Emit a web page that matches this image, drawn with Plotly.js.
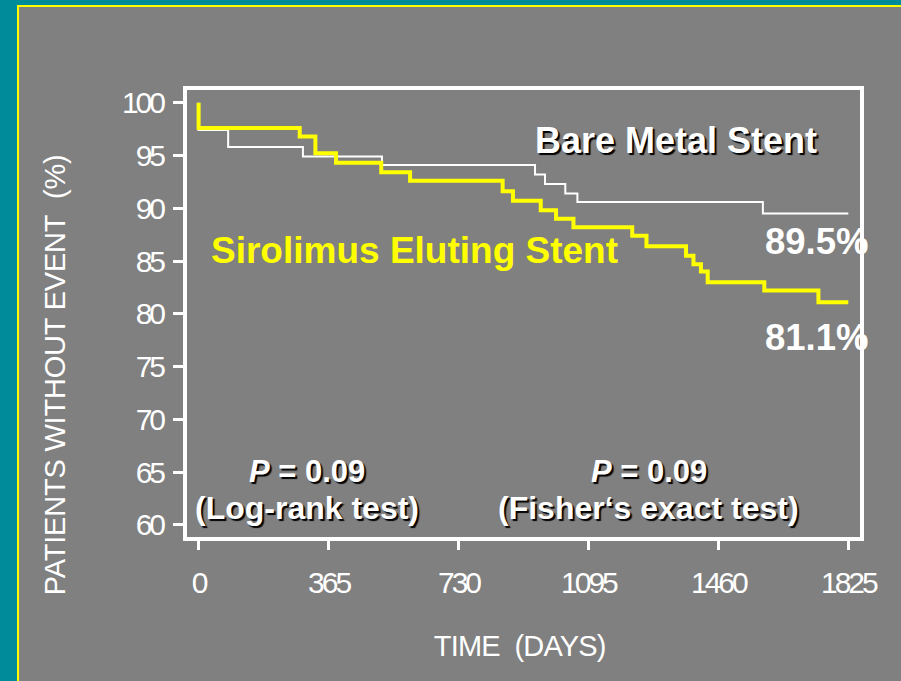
<!DOCTYPE html>
<html>
<head>
<meta charset="utf-8">
<script src="https://cdn.plot.ly/plotly-3.0.1.min.js"></script>
<style>
  html, body { margin: 0; padding: 0; background: #008B9A; }
  #chart { width: 901px; height: 681px; }
</style>
</head>
<body>
<div id="chart"></div>
<script>
// ---- data ----
const daysSES = [0, 0, 284, 328, 386, 513, 594, 854, 883, 961, 1004, 1053, 1218, 1258, 1369, 1390, 1411, 1430, 1589, 1741, 1825];
const survSES = [100, 97.6, 96.8, 95.2, 94.3, 93.4, 92.6, 91.6, 90.7, 89.8, 89.0, 88.2, 87.4, 86.4, 85.5, 84.7, 84.0, 83.0, 82.2, 81.1, 81.1];

const daysBMS = [0, 0, 83, 293, 515, 945, 973, 1030, 1064, 1585, 1825];
const survBMS = [100, 97.4, 95.8, 94.9, 94.1, 93.2, 92.3, 91.4, 90.6, 89.5, 89.5];

const xTicks = [0, 365, 730, 1095, 1460, 1825];
const yTicks = [60, 65, 70, 75, 80, 85, 90, 95, 100];

const seriesNames = ["Sirolimus Eluting Stent", "Bare Metal Stent"];
const finalLabels = ["81.1%", "89.5%"];
const xTitle = "TIME&nbsp;&nbsp;(DAYS)";
const yTitle = "PATIENTS WITHOUT EVENT&nbsp;&nbsp;(%)";

// ---- styling ----
const thin = "'Liberation Sans', Arial, sans-serif";
const bold = "'Liberation Sans', Arial, sans-serif";
const shadow = "2px 2px 1px #000000";

const traces = [
  {
    x: daysBMS, y: survBMS, type: "scatter", mode: "lines",
    line: { shape: "hv", color: "#ffffff", width: 2 },
    name: seriesNames[1], hoverinfo: "skip"
  },
  {
    x: daysSES, y: survSES, type: "scatter", mode: "lines",
    line: { shape: "hv", color: "#ffff00", width: 4 },
    name: seriesNames[0], hoverinfo: "skip"
  }
];

function ann(text, x, y, size, color, sh) {
  return {
    text: text, x: x, y: y, xref: "paper", yref: "paper",
    xanchor: "center", yanchor: "middle", showarrow: false,
    font: { family: bold, size: size, color: color, weight: 700, shadow: sh || "none" }
  };
}

const layout = {
  width: 901, height: 681,
  margin: { l: 187, r: 41, t: 90, b: 144, pad: 0 },
  paper_bgcolor: "#008B9A",
  plot_bgcolor: "rgba(0,0,0,0)",
  showlegend: false,
  xaxis: {
    range: [-32.6, 1857.8],
    tickvals: xTicks, ticktext: xTicks.map(String),
    showgrid: false, zeroline: false,
    showline: true, mirror: true, linecolor: "#ffffff", linewidth: 4,
    ticks: "outside", ticklen: 9, tickwidth: 3, tickcolor: "#ffffff",
    ticklabelstandoff: 7,
    tickfont: { family: thin, size: 30, color: "#ffffff" },
    fixedrange: true
  },
  yaxis: {
    range: [58.86, 101.2],
    tickvals: yTicks, ticktext: yTicks.map(String),
    showgrid: false, zeroline: false,
    showline: true, mirror: true, linecolor: "#ffffff", linewidth: 4,
    ticks: "outside", ticklen: 10, tickwidth: 3, tickcolor: "#ffffff",
    ticklabelstandoff: 4,
    tickfont: { family: thin, size: 30, color: "#ffffff" },
    fixedrange: true
  },
  shapes: [
    {
      type: "rect", xref: "paper", yref: "paper", layer: "below",
      x0: -0.2511, x1: 1.07, y0: -0.35, y1: 1.1879,
      fillcolor: "#808080", line: { color: "#ffff00", width: 2 }
    }
  ],
  annotations: [
    ann(seriesNames[1], 0.7259, 0.8870, 36, "#ffffff", shadow),
    ann(seriesNames[0], 0.3386, 0.6420, 37, "#ffff00"),
    ann(finalLabels[1], 0.9354, 0.6620, 36.5, "#ffffff"),
    ann(finalLabels[0], 0.9354, 0.4460, 36.5, "#ffffff"),
    ann("<i>P</i> = 0.09", 0.1783, 0.1465, 31, "#ffffff", shadow),
    ann("(Log-rank test)", 0.1776, 0.0649, 32, "#ffffff", shadow),
    ann("<i>P</i> = 0.09", 0.6865, 0.1465, 31, "#ffffff", shadow),
    ann("(Fisher\u2018s exact test)", 0.685, 0.0649, 32, "#ffffff", shadow),
    {
      text: yTitle, x: -0.1961, y: 0.3624, xref: "paper", yref: "paper",
      xanchor: "center", yanchor: "middle", showarrow: false, textangle: -90,
      font: { family: thin, size: 29, color: "#ffffff" }
    },
    {
      text: xTitle, x: 0.4948, y: -0.2438, xref: "paper", yref: "paper",
      xanchor: "center", yanchor: "middle", showarrow: false,
      font: { family: thin, size: 29, color: "#ffffff" }
    }
  ]
};

Plotly.newPlot("chart", traces, layout, { displayModeBar: false, staticPlot: true }).then(function () {
  // condensed look of the original lettering
  document.querySelectorAll(".xtick text, .ytick text").forEach(function (t) {
    t.style.letterSpacing = "-3px";
  });
  document.querySelectorAll(".annotation-text").forEach(function (t) {
    var u = t.getAttribute("data-unformatted") || "";
    if (u === xTitle) t.style.letterSpacing = "-0.8px";
    if (u === yTitle) t.style.letterSpacing = "-0.2px";
  });
});
</script>
</body>
</html>
